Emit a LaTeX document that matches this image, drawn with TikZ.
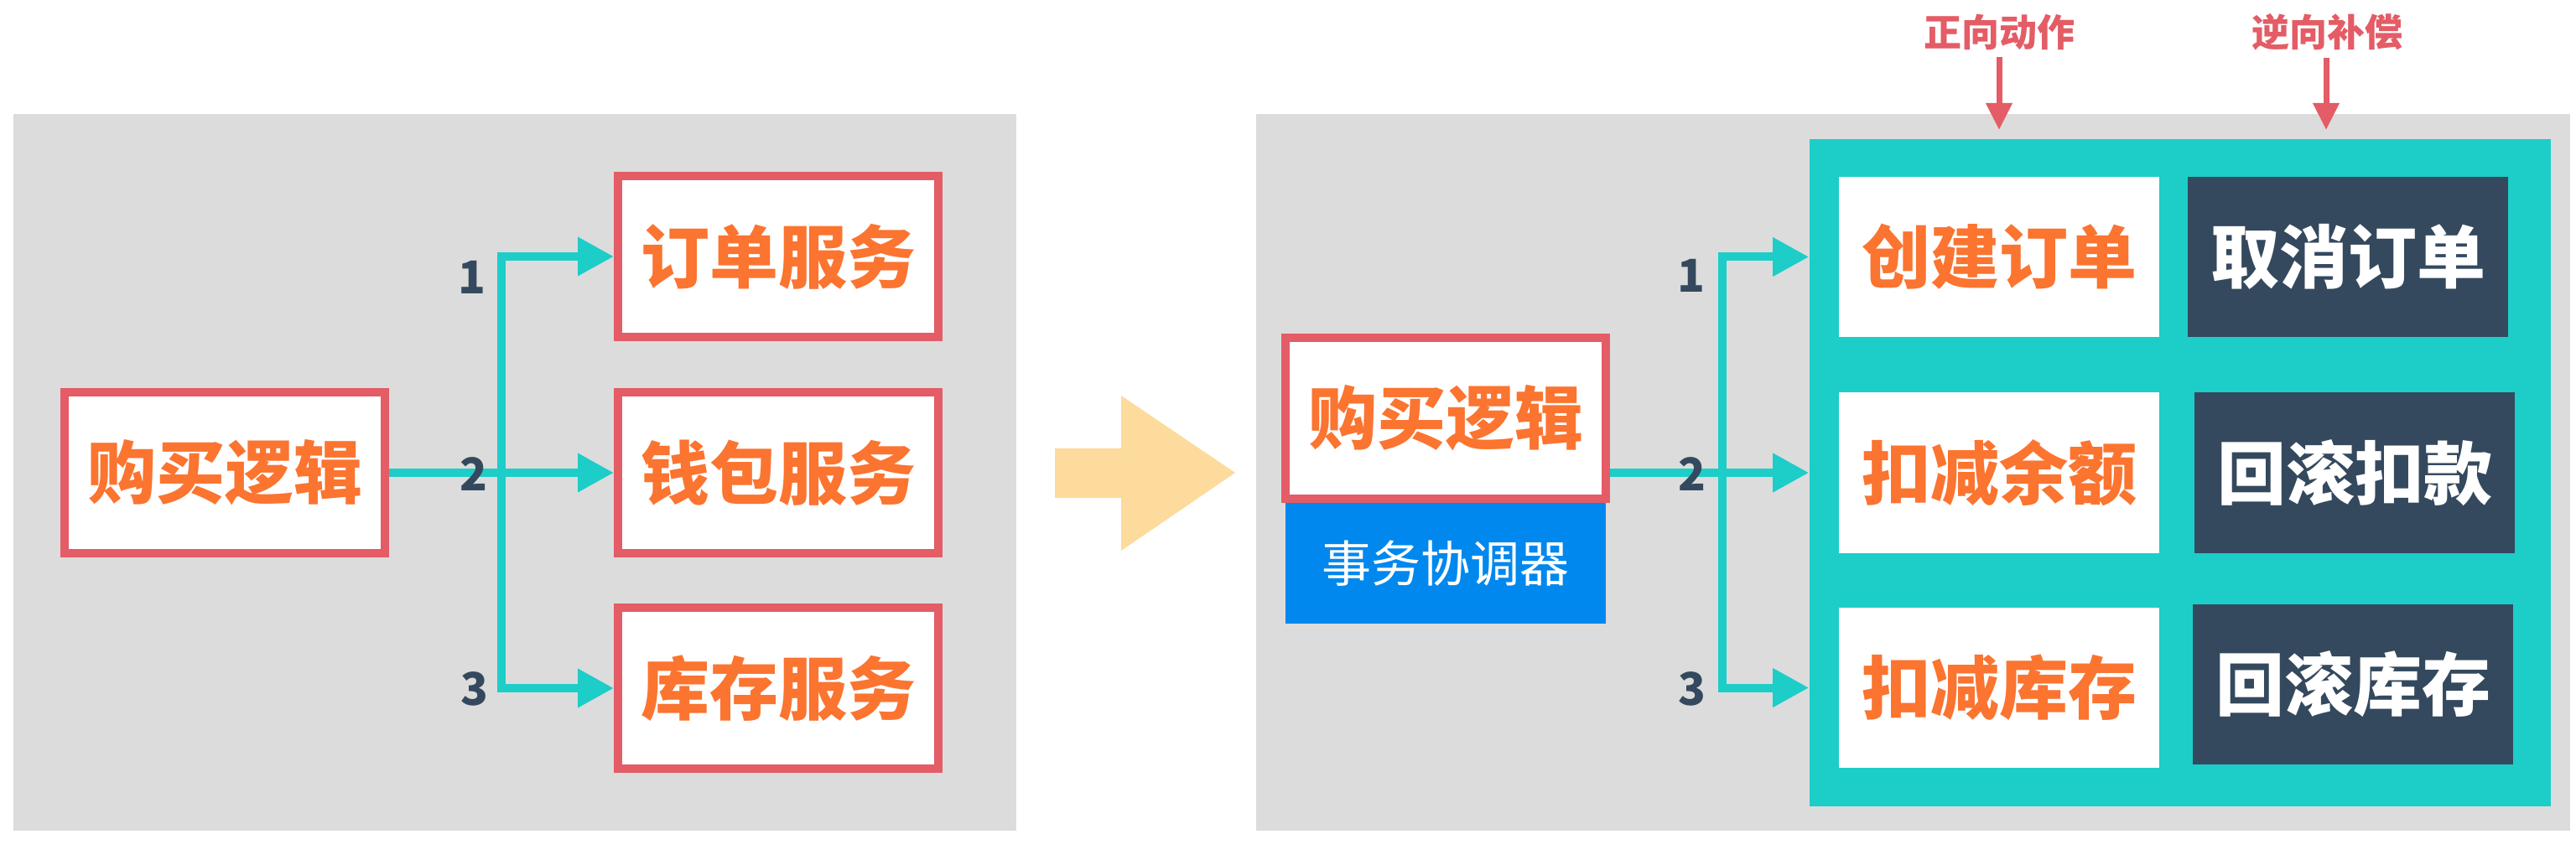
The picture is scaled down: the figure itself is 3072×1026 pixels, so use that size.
\documentclass[tikz,border=0pt]{standalone}
\usepackage{fontspec}
\setmainfont{Noto Sans CJK SC}
\usetikzlibrary{arrows.meta}
\definecolor{bggray}{HTML}{DCDCDC}
\definecolor{redb}{HTML}{E45C65}
\definecolor{orangetxt}{HTML}{FB7430}
\definecolor{tealc}{HTML}{1DCDC8}
\definecolor{darkc}{HTML}{34495E}
\definecolor{bluec}{HTML}{0088EE}
\definecolor{yellowc}{HTML}{FDDB9C}
\tikzset{
  bigfont/.style={font=\fontsize{20.5pt}{24pt}\selectfont\bfseries},
  redbox/.style={draw=redb, line width=2.5pt, fill=white, minimum width=95.5pt, minimum height=48pt, inner sep=0pt, bigfont, text=orangetxt},
  whitebox/.style={fill=white, minimum width=95.5pt, minimum height=47.75pt, inner sep=0pt, bigfont, text=orangetxt},
  darkbox/.style={fill=darkc, minimum width=95.5pt, minimum height=47.75pt, inner sep=0pt, bigfont, text=white},
  bluebox/.style={fill=bluec, minimum width=95.5pt, minimum height=36pt, inner sep=0pt, text=white, font=\fontsize{14.75pt}{17pt}\selectfont},
  panel/.style={fill=bggray, draw=none},
  flow/.style={draw=tealc, line width=2.5pt, -{Triangle[length=10.75pt,width=11pt]}},
  num/.style={text=darkc, font=\fontsize{13.5pt}{16pt}\selectfont\bfseries, inner sep=0pt},
  toplbl/.style={text=redb, font=\fontsize{11.25pt}{13pt}\selectfont\bfseries, inner sep=0pt},
  redarrow/.style={draw=redb, line width=1.75pt, -{Triangle[length=8pt,width=7.5pt]}, shorten <=2pt},
}
\begin{document}
\begin{tikzpicture}[x=0.25pt,y=-0.25pt]
\useasboundingbox (0,0) rectangle (3072,1026);
\fill[white] (0,0) rectangle (3072,1026);
% panels
\fill[panel] (16,136) rectangle (1212,991);
\fill[panel] (1498,136) rectangle (3065,991);

% left side
\node[redbox] (buyL) at (268,564) {购买逻辑};
\node[redbox] (svc1) at (928,306) {订单服务};
\node[redbox] (svc2) at (928,564) {钱包服务};
\node[redbox] (svc3) at (928,821) {库存服务};
\coordinate (jL) at (598,564);
\draw[flow] (buyL.east) -- (svc2.west);
\draw[flow] (jL) |- (svc1.west);
\draw[flow] (jL) |- (svc3.west);
\node[num] (nL1) at (563,331) {1};
\node[num] (nL2) at (565,566) {2};
\node[num] (nL3) at (566,822) {3};

% big arrow
\fill[yellowc] (1258,535) -- (1337,535) -- (1337,472) -- (1473,564) -- (1337,657) -- (1337,594) -- (1258,594) -- cycle;

% right side
\node[fill=tealc, minimum width=221pt, minimum height=199pt, inner sep=0pt] (saga) at (2600,564) {};
\node[whitebox] (fw1) at (2384,306.5) {创建订单};
\node[whitebox] (fw2) at (2384,564) {扣减余额};
\node[whitebox] (fw3) at (2384,820.5) {扣减库存};
\node[darkbox] (cp1) at (2800,306.5) {取消订单};
\node[darkbox] (cp2) at (2808,564) {回滚扣款};
\node[darkbox] (cp3) at (2806,816.5) {回滚库存};

\node[redbox] (buyR) at (1724,499) {购买逻辑};
\node[bluebox] (coord) at (1724,672) {事务协调器};

\coordinate (jR) at (2054,564);
\draw[flow] (buyR.east |- jR) -- (saga.west |- jR);
\draw[flow] (jR) |- (saga.west |- fw1);
\draw[flow] (jR) |- (saga.west |- fw3);
\node[num] (nR1) at (2017,329) {1};
\node[num] (nR2) at (2018,566) {2};
\node[num] (nR3) at (2018,822) {3};

% top labels
\node[toplbl] (lblF) at (2384,38) {正向动作};
\node[toplbl] (lblB) at (2775,38) {逆向补偿};
\coordinate (tipF) at (2384,155);
\coordinate (tipB) at (2774,155);
\draw[redarrow] (lblF.south) -- (tipF);
\draw[redarrow] (lblB.south -| tipB) -- (tipB);
\end{tikzpicture}
\end{document}
